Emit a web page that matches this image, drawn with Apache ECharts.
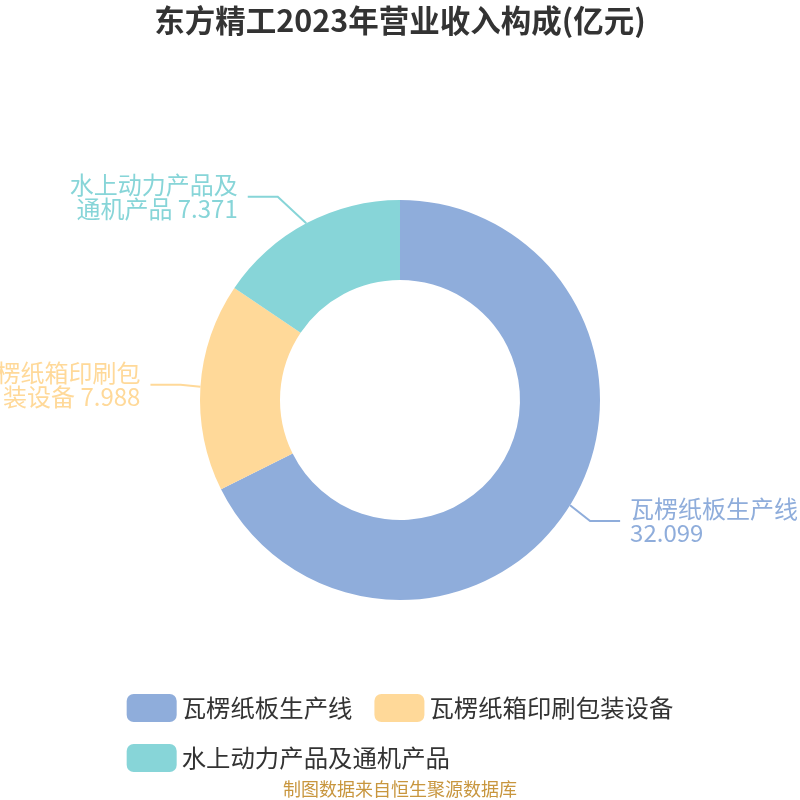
<!DOCTYPE html>
<html>
<head>
<meta charset="utf-8">
<script src="https://cdn.jsdelivr.net/npm/echarts@6/dist/echarts.min.js"></script>
<style>
html,body{margin:0;padding:0;background:#fff;}
#chart{width:800px;height:800px;}
</style>
</head>
<body>
<div id="chart"></div>
<script>
const titleText = '东方精工2023年营业收入构成(亿元)';
const sourceText = '制图数据来自恒生聚源数据库';
const categories = ['瓦楞纸板生产线', '瓦楞纸箱印刷包装设备', '水上动力产品及通机产品'];
const values = [32.099, 7.988, 7.371];
const colors = ['#8FADDB', '#FFD999', '#87D5D8'];

const FONT = '"Noto Sans CJK SC", "Noto Sans", sans-serif';
const LINE_LEN = 30, LINE_LEN2 = 30, LABEL_GAP = 10;
const chart = echarts.init(document.getElementById('chart'), null, {renderer: 'canvas'});

// Place labels on a circle of radius r + length + length2 (classic pie label layout)
function layoutLabel(params) {
  const pts = params.labelLinePoints;
  if (!pts || pts.length < 3) return {};
  const W = chart.getWidth(), H = chart.getHeight();
  const cx = W * 0.5, cy = H * 0.5;
  const r = Math.min(W, H) / 2 * 0.5;
  const R = r + LINE_LEN + LINE_LEN2;
  const p1 = pts[0], p2 = pts[1], p3 = pts[2];
  const dir = p3[0] >= p2[0] ? 1 : -1;
  const y = p2[1];
  const dy = Math.abs(y - cy);
  const textX = cx + dir * Math.sqrt(Math.max(R * R - dy * dy, 0));
  const endX = textX - dir * LABEL_GAP;
  const turnX = endX - dir * LINE_LEN2;
  return {x: textX, y: y, labelLinePoints: [[p1[0], p1[1]], [turnX, y], [endX, y]]};
}

chart.setOption({
  backgroundColor: '#ffffff',
  color: colors,
  title: [
    {
      text: titleText,
      left: 'center',
      top: 0,
      textStyle: {fontSize: 30.5, fontWeight: 'bold', color: '#333333', fontFamily: FONT}
    },
    {
      text: sourceText,
      left: 'center',
      bottom: -3,
      textStyle: {fontSize: 18, fontWeight: 'normal', color: '#C8963E', fontFamily: FONT}
    }
  ],
  legend: {
    left: 'center',
    top: 689,
    itemWidth: 50,
    itemHeight: 28,
    itemGap: 22,
    itemTextGap: 11,
    icon: 'roundRect',
    textStyle: {fontSize: 24.4, color: '#333333', fontFamily: FONT},
    data: categories
  },
  series: [{
    type: 'pie',
    center: ['50%', '50%'],
    radius: ['30%', '50%'],
    startAngle: 90,
    clockwise: true,
    label: {
      formatter: '{b} {c}',
      fontSize: 24,
      lineHeight: 24,
      width: 180,
      overflow: 'break',
      fontFamily: FONT
    },
    labelLine: {length: LINE_LEN, length2: LINE_LEN2, lineStyle: {width: 2}},
    labelLayout: layoutLabel,
    data: categories.map((c, i) => ({
      name: c,
      value: values[i],
      label: {color: colors[i]},
      labelLine: {lineStyle: {color: colors[i], width: 2}}
    }))
  }]
});
</script>
</body>
</html>
